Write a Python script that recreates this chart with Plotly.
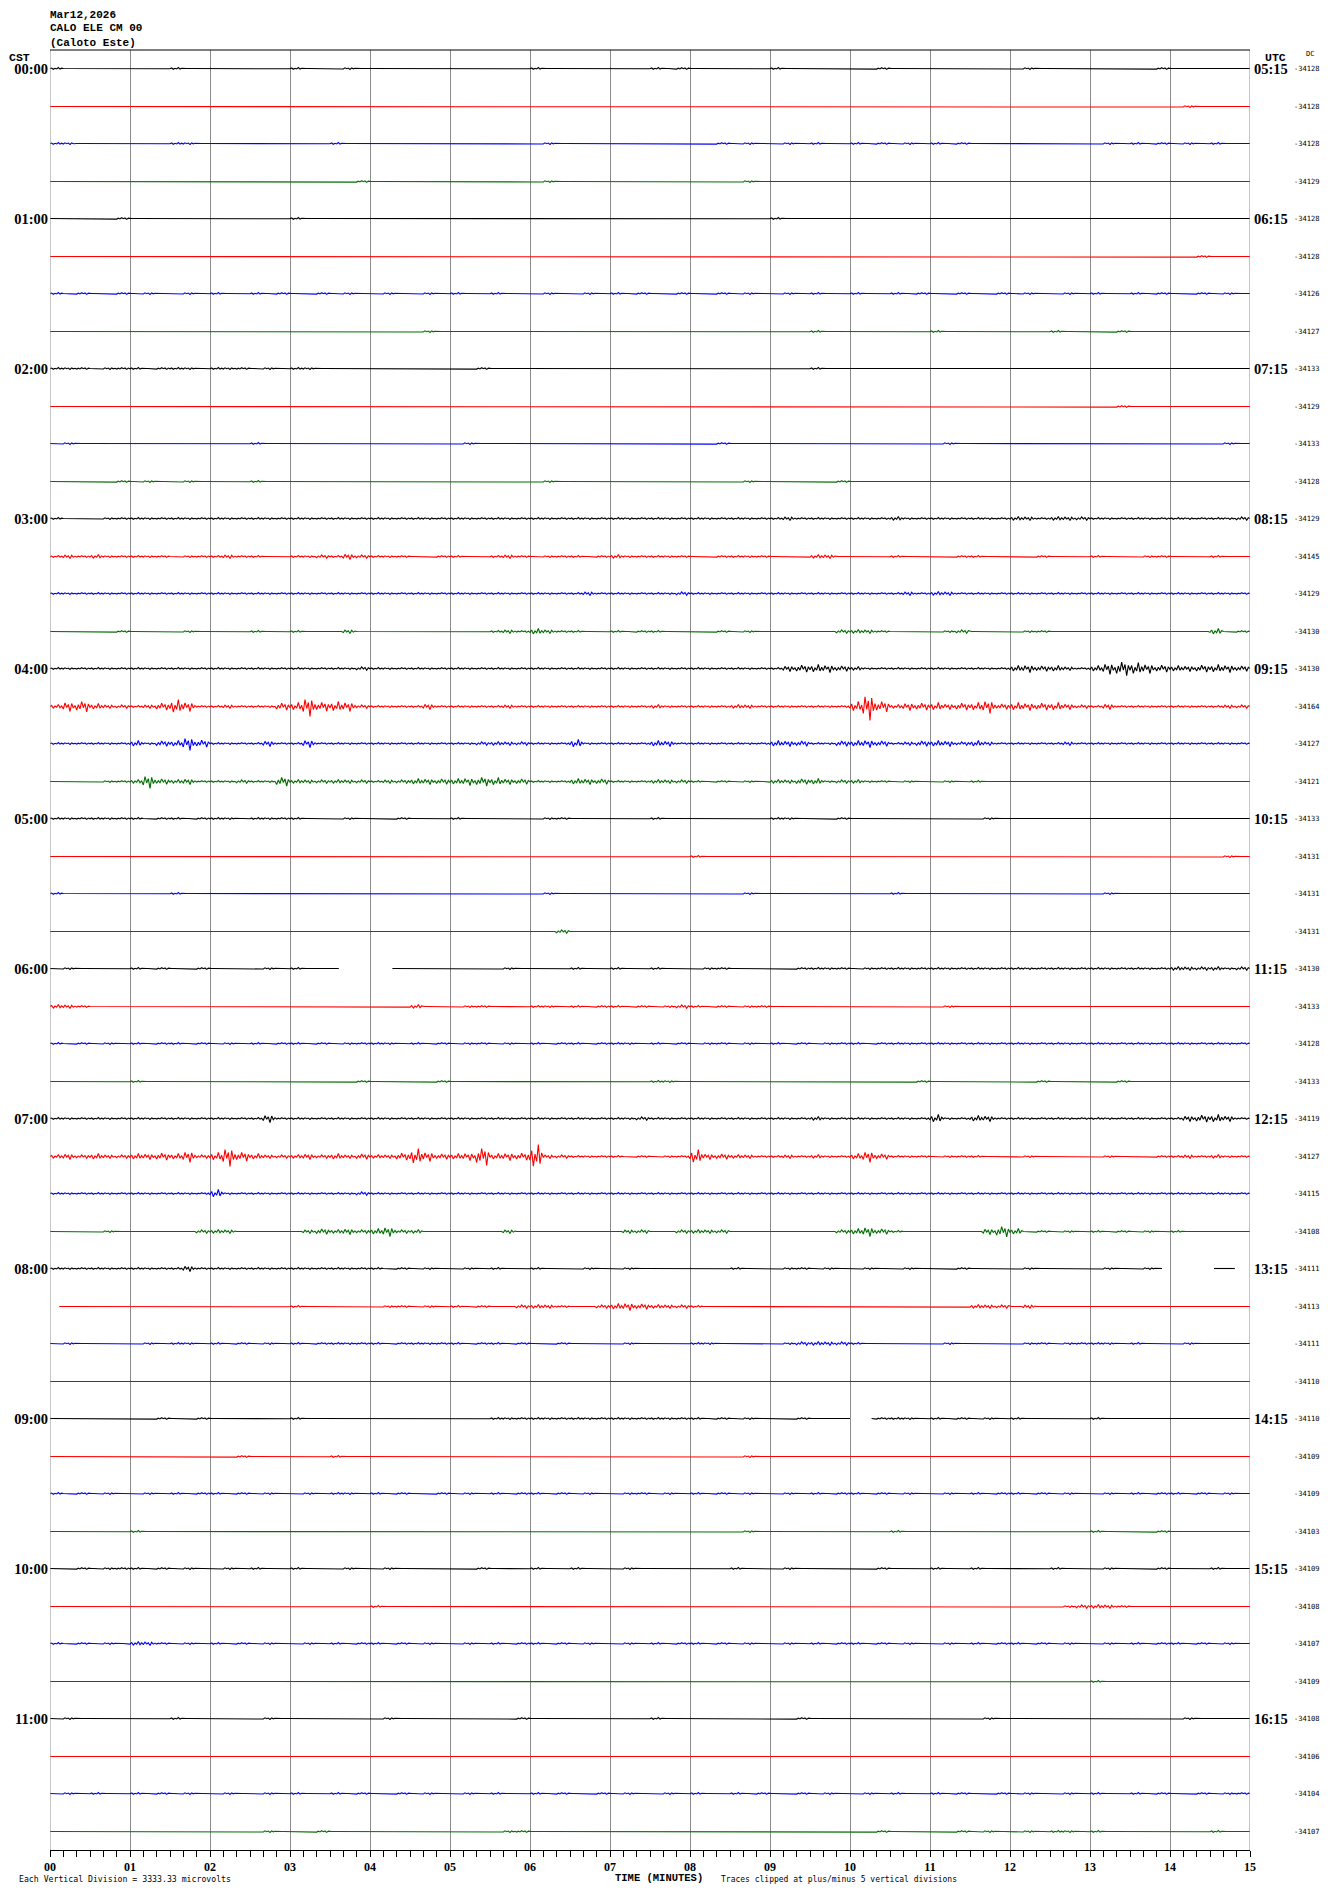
import math
import plotly.graph_objects as go

# ---------------- data ----------------
CST_LABELS = ["00:00", "01:00", "02:00", "03:00", "04:00", "05:00",
              "06:00", "07:00", "08:00", "09:00", "10:00", "11:00"]
UTC_LABELS = ["05:15", "06:15", "07:15", "08:15", "09:15", "10:15",
              "11:15", "12:15", "13:15", "14:15", "15:15", "16:15"]
MINUTE_LABELS = ["00", "01", "02", "03", "04", "05", "06", "07",
                 "08", "09", "10", "11", "12", "13", "14", "15"]
DC_VALUES = [-34128, -34128, -34128, -34129, -34128, -34128, -34126, -34127,
             -34133, -34129, -34133, -34128, -34129, -34145, -34129, -34130,
             -34130, -34164, -34127, -34121, -34133, -34131, -34131, -34131,
             -34130, -34133, -34128, -34133, -34119, -34127, -34115, -34108,
             -34111, -34113, -34111, -34110, -34110, -34109, -34109, -34103,
             -34109, -34108, -34107, -34109, -34108, -34106, -34104, -34107]

# peak amplitude (pixels, hex digit) of each 10-second bin, one group per minute
AMP = [
    "100000 000100 000000 100010 000000 000000 100000 000101 000000 100000 001000 000000 010000 000001 000000",  # 00:00
    "000000 000000 000000 000000 000000 000000 000000 000000 000000 000000 000000 000000 000000 000000 010000",
    "110000 000110 000000 000100 000000 000000 010000 000000 001010 010100 101010 101000 000000 010101 010100",
    "000000 000000 000000 000001 000000 000000 010000 000000 000010 000000 000000 000000 000000 000000 000000",
    "000001 000000 000000 100000 000000 000000 000000 000000 000000 100000 000000 000000 000000 000000 000000",  # 01:00
    "000000 000000 000000 000000 000000 000000 000000 000000 000000 000000 000000 000000 000000 000000 001000",
    "101001 010010 100101 001010 010010 100100 010010 101001 001010 010100 100101 001001 010010 100101 001010",
    "000000 000000 000000 000000 000010 000000 000000 000000 000000 000100 000000 100000 000100 001000 000000",
    "111011 101110 111010 110000 000000 001000 000000 000000 000000 000100 000000 000000 000000 000000 000000",  # 02:00
    "000000 000000 000000 000000 000000 000000 000000 000000 000000 000000 000000 000000 000000 001000 000000",
    "010000 000000 000100 000000 000000 010000 000000 000000 001000 000000 000000 010000 000000 000000 000010",
    "000001 010010 000100 000000 000000 000000 010000 000000 000010 000001 000000 000000 000000 000000 000000",
    "100011 111111 111111 111111 111111 111111 111111 111111 111111 121111 111211 111111 221222 111111 111112",  # 03:00
    "121211 111011 121100 112132 111001 100121 011101 211111 001111 000220 000100 001100 001000 100011 000100",
    "111111 111111 111111 111111 111111 111111 111121 111112 111111 111111 111121 221111 111111 111111 111111",
    "000001 000010 000100 100020 000000 000121 321100 101100 001010 000002 221000 012000 011000 000000 000301",
    "111111 111111 111111 111112 111111 111111 111111 111111 111111 134443 211111 111111 343321 368654 334443",  # 04:00
    "256322 124751 121114 4a5552 111131 111121 111111 111211 111221 111111 5e6244 434473 444432 131111 111122",
    "111111 313374 111131 141111 111111 112222 111411 111331 111111 333113 343123 332321 111121 111111 111111",
    "000011 273231 112115 222222 122333 345433 111333 111222 101010 223312 211010 010100 000000 000000 000000",
    "111111 101101 110111 100010 001000 100000 011000 000100 000000 110001 000000 000010 000000 000000 000000",  # 05:00
    "000000 000000 000000 000000 000000 000000 000000 000000 100000 000000 000000 000000 000000 000000 000010",
    "100000 000100 000000 000000 000000 000000 010000 000000 000010 000000 000100 000000 000000 010000 000000",
    "000000 000000 000000 000000 000000 000000 002000 000000 000000 000000 000000 000000 000000 000000 000000",
    "010000 101001 000010 100000 000000 000010 000100 100100 011000 001111 011111 111111 111111 111111 222212",  # 06:00
    "221000 000000 000000 000000 000200 011000 110101 101012 101011 000000 000000 010000 000000 000000 000000",
    "101010 101101 010101 101011 110101 011010 101101 110101 011010 101011 101111 111111 111111 111111 111111",
    "000000 100000 000000 000001 000001 000000 000000 000110 000000 000000 000001 000000 001000 001000 000000",
    "111111 111111 111141 111111 111111 111111 111111 112111 111111 111211 111111 411331 111111 111111 134431",  # 07:00
    "232322 334362 4a5322 232323 224853 34a344 c22111 101011 733221 121211 363111 011100 010000 010001 121211",
    "111111 111111 411111 111112 111111 111111 111111 111111 111111 111111 111111 111111 111111 111111 111111",
    "000010 000002 220000 023232 352200 000020 000000 022002 222000 000002 353100 000036 301010 101010 100000",
    "111111 111131 111111 111111 101010 010100 100010 010000 000100 011010 010010 001000 010000 010010 000000",  # 08:00
    "000000 000000 000000 100000 011010 101002 221002 343222 100000 000000 000000 000222 020000 000000 000000",
    "010000 010110 101010 101111 101111 101101 001000 010000 110000 012222 100000 010000 011011 110100 010000",
    "000000 000000 000000 000000 000000 000000 000000 000000 000000 000000 000000 000000 000000 000000 000000",
    "000000 001001 000000 100000 000000 000111 111111 111111 101010 001000 001110 101010 100000 100000 000000",  # 09:00
    "000000 000000 001000 000100 000000 000000 000000 000000 000010 000000 000000 000000 000000 000000 000000",
    "101010 010101 101010 010110 101001 010101 101010 011010 101010 010101 101010 010101 101010 010101 101010",
    "000000 100000 000000 000000 000000 000000 000000 000000 000010 000000 000100 000000 000000 100001 000000",
    "001011 101010 010100 100010 010000 001000 100100 010000 000100 010000 001000 100100 000100 010001 000100",  # 10:00
    "000000 000000 000000 000000 100000 000000 000000 000000 000000 000000 000000 000000 000012 221000 000000",
    "101010 221010 101010 010101 101010 010101 101010 010101 101010 010101 101010 010101 101010 010101 101010",
    "000000 000000 000000 000000 000000 000000 000000 000000 000000 000000 000000 000000 000000 100000 000000",
    "010000 000100 000010 000000 010000 000001 000000 000100 000000 001000 000000 000010 000000 000000 010000",  # 11:00
    "000000 000000 000000 000000 000000 000000 000000 000000 000000 000000 000000 000000 000000 000000 000000",
    "010100 101010 010010 100101 001010 010100 101001 010010 100101 001010 010100 101001 010010 100101 001011",
    "000000 000000 000010 001000 000000 000011 000000 000000 000000 000000 001000 001010 010110 100000 000100",
]

# minutes with data (gaps elsewhere)
SEGMENTS = {
    24: [(0.0, 3.61), (4.28, 15.0)],
    32: [(0.0, 13.9), (14.55, 14.81)],
    33: [(0.115, 15.0)],
    36: [(0.0, 10.0), (10.27, 15.0)],
}

# ---------------- style / geometry ----------------
COLORS = ["#000000", "#ff0000", "#0000ff", "#006e00"]
OFF = 8                       # page body margin of the browser
W, H = 1314, 1877             # figure size
L, T = 50 - OFF, 50 - OFF     # plot area starts at screen (50, 50)
PLOT_W, PLOT_H = 1200, 1800
R, B = W - L - PLOT_W, H - T - PLOT_H
ROWH = PLOT_H / 48.0          # 37.5
SHAPE = [0.3, -0.5, 0.8, -0.2, 0.4, -1.0, 0.6, -0.3,
         0.5, -0.7, 0.2, -0.4, 1.0, -0.6, 0.3, -0.2,
         0.6, -0.3, 0.4, -0.8, 0.2, -0.5, 0.9, -0.4]
NB, SUB = 90, 8

fig = go.Figure()

for i, s in enumerate(AMP):
    amps = [int(c, 16) for c in s.replace(" ", "")]
    assert len(amps) == NB, (i, len(amps))
    base = math.floor(ROWH / 2 + ROWH * i) + 0.5
    xs, ys = [], []
    for (s0, s1) in SEGMENTS.get(i, [(0.0, 15.0)]):
        xs.append(s0); ys.append(base)
        for k in range(NB * SUB + 1):
            x = k * 15.0 / (NB * SUB)
            if x <= s0 or x >= s1:
                continue
            b = min(k // SUB, NB - 1)
            xs.append(x)
            ys.append(base + amps[b] * SHAPE[k % len(SHAPE)])
        xs.append(s1); ys.append(base)
        xs.append(None); ys.append(None)
    fig.add_trace(go.Scatter(x=xs, y=ys, mode="lines",
                             line=dict(color=COLORS[i % 4], width=1.1),
                             hoverinfo="skip", showlegend=False))

# invisible trace for the right-hand axis
fig.add_trace(go.Scatter(x=[0, 15], y=[0, PLOT_H], yaxis="y2", mode="markers",
                         marker=dict(opacity=0), hoverinfo="skip", showlegend=False))

hour_rows = [ROWH / 2 + ROWH * 4 * h for h in range(12)]

fig.update_layout(
    width=W, height=H, autosize=False,
    margin=dict(l=L, r=R, t=T, b=B, pad=0, autoexpand=False),
    paper_bgcolor="white", plot_bgcolor="white",
    xaxis=dict(range=[0, 15], tickvals=list(range(16)), ticktext=MINUTE_LABELS,
               automargin=False,
               showgrid=True, gridcolor="#8c8c8c", gridwidth=1, zeroline=False,
               showline=True, linecolor="black", linewidth=1,
               ticks="outside", ticklen=6, tickcolor="black", tickwidth=1,
               tickfont=dict(family="Liberation Serif", size=12, color="black", weight="bold"),
               minor=dict(dtick=1 / 6, tick0=0, ticks="outside", ticklen=6,
                          tickcolor="black", tickwidth=1, showgrid=False)),
    yaxis=dict(range=[PLOT_H, 0], tickvals=hour_rows, automargin=False,
               ticktext=CST_LABELS, showgrid=False, zeroline=False,
               showline=False, ticks="", ticklabelstandoff=1,
               tickfont=dict(family="Liberation Serif", size=14.5, color="black", weight="bold")),
    yaxis2=dict(range=[PLOT_H, 0], overlaying="y", side="right", automargin=False,
                tickvals=hour_rows, ticktext=UTC_LABELS, showgrid=False,
                zeroline=False, showline=False, ticks="", ticklabelstandoff=3,
                tickfont=dict(family="Liberation Serif", size=14.5, color="black", weight="bold")),
)

# frame
fig.add_shape(type="line", xref="x", yref="paper", x0=0, x1=0, y0=0, y1=1,
              line=dict(color="#8c8c8c", width=1))
fig.add_shape(type="line", xref="x", yref="paper", x0=15, x1=15, y0=0, y1=1,
              line=dict(color="#8c8c8c", width=1))
fig.add_shape(type="line", xref="paper", yref="paper", x0=0, x1=1, y0=1, y1=1,
              line=dict(color="black", width=1))


def px(X, Y):
    """screen pixel -> paper coordinates"""
    return (X - 50) / PLOT_W, (1850 - Y) / PLOT_H


def note(text, X, Y, size, family, xanchor="left", bold=False, yanchor="middle"):
    x, y = px(X, Y)
    fig.add_annotation(text=f"<b>{text}</b>" if bold else text, x=x, y=y,
                       xref="paper", yref="paper", xanchor=xanchor, yanchor=yanchor,
                       borderpad=0,
                       showarrow=False, font=dict(family=family, size=size, color="black"))


note("Mar12,2026", 49, 15, 11, "Liberation Mono", bold=True)
note("CALO ELE CM 00", 49, 28.5, 11, "Liberation Mono", bold=True)
note("(Caloto Este)", 49, 42.5, 11, "Liberation Mono", bold=True)
note("CST", 8, 57, 11.5, "Liberation Mono", bold=True)
note("UTC", 1264, 57, 11.5, "Liberation Mono", bold=True)
note("DC", 1305, 54, 7, "DejaVu Sans Mono")

for i, v in enumerate(DC_VALUES):
    note(str(v), 1293, 50 + ROWH / 2 + ROWH * i, 7.1, "DejaVu Sans Mono")

note("Each Vertical Division = 3333.33 microvolts", 18, 1879, 8.2, "DejaVu Sans Mono")
note("TIME (MINUTES)", 614, 1885, 10.5, "Liberation Mono", bold=True, yanchor="bottom")
note("Traces clipped at plus/minus 5 vertical divisions", 720, 1879, 8.0, "DejaVu Sans Mono")

fig.write_html("out.html")
